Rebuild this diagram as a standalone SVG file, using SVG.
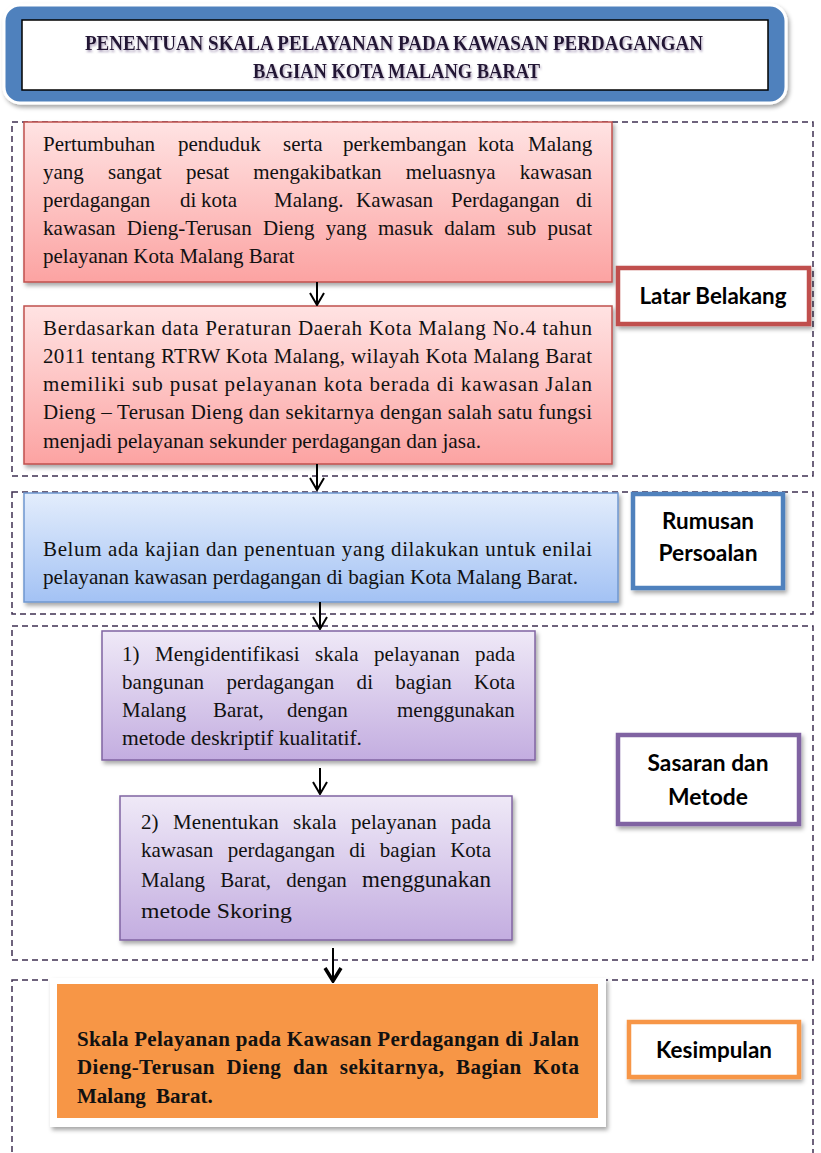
<svg xmlns="http://www.w3.org/2000/svg" width="821" height="1153" viewBox="0 0 821 1153">
<style>
.sec{fill:none;stroke:#3f3151;stroke-width:1.5;stroke-dasharray:6 4}
.body{font-family:"Liberation Serif","Times New Roman",serif;font-size:21px;fill:#111}
.bold{font-family:"Liberation Serif","Times New Roman",serif;font-size:21px;font-weight:bold;fill:#111}
.lab{font-family:Lato,"Liberation Sans",sans-serif;font-size:22px;font-weight:bold;fill:#000;text-anchor:middle}
.title{font-family:"Liberation Serif","Times New Roman",serif;font-size:22px;font-weight:bold;fill:#241634}
.end{text-anchor:end}
.conn{stroke:#000;stroke-width:2;fill:none}
</style>
<defs>
<linearGradient id="gRed" x1="0" y1="0" x2="0" y2="1"><stop offset="0" stop-color="#ffe3e3"/><stop offset="1" stop-color="#fca3a2"/></linearGradient>
<linearGradient id="gBlue" x1="0" y1="0" x2="0" y2="1"><stop offset="0" stop-color="#e3edfc"/><stop offset="1" stop-color="#a3c2f4"/></linearGradient>
<linearGradient id="gPur" x1="0" y1="0" x2="0" y2="1"><stop offset="0" stop-color="#efe9f7"/><stop offset="1" stop-color="#c3ade0"/></linearGradient>
<filter id="sh" x="-5%" y="-10%" width="115%" height="130%"><feDropShadow dx="2" dy="3" stdDeviation="2" flood-color="#000" flood-opacity="0.35"/></filter>
<filter id="tsh" x="-5%" y="-20%" width="110%" height="150%"><feDropShadow dx="1" dy="2" stdDeviation="1" flood-color="#8a7aa0" flood-opacity="0.7"/></filter>
<marker id="ah" markerUnits="userSpaceOnUse" viewBox="0 0 14 16" refX="13" refY="8" markerWidth="14" markerHeight="16" orient="auto"><path d="M1,1 L13,8 L1,15" fill="none" stroke="#000" stroke-width="2"/></marker>
<marker id="ahb" markerUnits="userSpaceOnUse" viewBox="0 0 16 20" refX="15" refY="10" markerWidth="16" markerHeight="20" orient="auto"><path d="M1,2 L14,10 L1,18" fill="none" stroke="#000" stroke-width="3.5"/></marker>
</defs>
<rect width="821" height="1153" fill="#fff"/>

<g id="sections">
<rect class="sec" x="12" y="122" width="801" height="354"/>
<rect class="sec" x="12" y="492" width="801" height="122"/>
<rect class="sec" x="12" y="626" width="801" height="334"/>
<rect class="sec" x="12" y="980" width="801" height="200"/>
</g>

<g id="title">
<rect x="4" y="5" width="782" height="98" rx="16" fill="#4f81bd" stroke="#fff" stroke-width="3" filter="url(#sh)"/>
<rect x="22" y="20" width="746" height="70" fill="#fff" stroke="#000" stroke-width="1.5"/>
<g filter="url(#tsh)">
<text class="title" x="85" y="50" textLength="618" lengthAdjust="spacingAndGlyphs">PENENTUAN  SKALA PELAYANAN PADA KAWASAN PERDAGANGAN</text>
<text class="title" x="253" y="78" textLength="287" lengthAdjust="spacingAndGlyphs">BAGIAN KOTA MALANG BARAT</text>
</g>
</g>

<g id="latar1">
<rect x="24" y="122" width="588" height="160" fill="url(#gRed)" stroke="#c0504d" stroke-width="1.5" filter="url(#sh)"/>
<text class="body" y="151"><tspan x="43">Pertumbuhan</tspan><tspan x="178">penduduk</tspan><tspan x="283">serta</tspan><tspan x="343">perkembangan</tspan><tspan x="478">kota</tspan><tspan x="528">Malang</tspan></text>
<text class="body" x="43" y="179" word-spacing="19" textLength="549" lengthAdjust="spacing">yang sangat pesat mengakibatkan meluasnya kawasan</text>
<text class="body" y="207"><tspan x="43">perdagangan</tspan><tspan x="180">di</tspan><tspan x="201">kota</tspan><tspan x="274">Malang.</tspan><tspan x="356">Kawasan</tspan><tspan x="451">Perdagangan</tspan><tspan x="576">di</tspan></text>
<text class="body" x="43" y="235" word-spacing="6" textLength="549" lengthAdjust="spacing">kawasan Dieng-Terusan Dieng yang masuk dalam sub pusat</text>
<text class="body" x="43" y="263">pelayanan Kota Malang Barat</text>
</g>

<g id="latar2">
<rect x="24" y="306" width="588" height="158" fill="url(#gRed)" stroke="#c0504d" stroke-width="1.5" filter="url(#sh)"/>
<text class="body" x="43" y="335" textLength="549" lengthAdjust="spacing">Berdasarkan data Peraturan Daerah Kota Malang No.4 tahun</text>
<text class="body" x="43" y="363" textLength="549" lengthAdjust="spacing">2011 tentang RTRW Kota Malang, wilayah Kota Malang Barat</text>
<text class="body" x="43" y="391" textLength="549" lengthAdjust="spacing">memiliki sub pusat pelayanan kota berada di kawasan Jalan</text>
<text class="body" x="43" y="419" textLength="549" lengthAdjust="spacing">Dieng – Terusan Dieng dan sekitarnya dengan salah satu fungsi</text>
<text class="body" x="43" y="448" textLength="438" lengthAdjust="spacingAndGlyphs">menjadi pelayanan sekunder perdagangan dan jasa.</text>
</g>

<g id="label-latar">
<rect x="618" y="268" width="191" height="56" fill="#fff" stroke="#c0504d" stroke-width="4.5" filter="url(#sh)"/>
<text class="lab" x="713" y="304" textLength="147" lengthAdjust="spacingAndGlyphs">Latar Belakang</text>
</g>

<g id="rumusan">
<rect x="24" y="493" width="594" height="109" fill="url(#gBlue)" stroke="#6f97cf" stroke-width="1.5" filter="url(#sh)"/>
<text class="body" x="43" y="556" textLength="549" lengthAdjust="spacing">Belum ada kajian dan penentuan yang dilakukan untuk enilai</text>
<text class="body" x="43" y="584" textLength="535" lengthAdjust="spacingAndGlyphs">pelayanan kawasan perdagangan di bagian Kota Malang Barat.</text>
</g>

<g id="label-rumusan">
<rect x="633" y="494" width="150" height="94" fill="#fff" stroke="#4f81bd" stroke-width="4.5" filter="url(#sh)"/>
<text class="lab" x="708" y="529" textLength="92" lengthAdjust="spacingAndGlyphs">Rumusan</text>
<text class="lab" x="708" y="561" textLength="99" lengthAdjust="spacingAndGlyphs">Persoalan</text>
</g>

<g id="sasaran1">
<rect x="102" y="631" width="433" height="129" fill="url(#gPur)" stroke="#8064a2" stroke-width="1.5" filter="url(#sh)"/>
<text class="body" x="122" y="661" word-spacing="10" textLength="393" lengthAdjust="spacing">1) Mengidentifikasi skala pelayanan pada</text>
<text class="body" x="122" y="689" word-spacing="17" textLength="393" lengthAdjust="spacing">bangunan perdagangan di bagian Kota</text>
<text class="body" y="717"><tspan x="122">Malang</tspan><tspan x="213">Barat,</tspan><tspan x="287">dengan</tspan><tspan x="397">menggunakan</tspan></text>
<text class="body" x="122" y="745" textLength="240" lengthAdjust="spacingAndGlyphs">metode deskriptif kualitatif.</text>
</g>

<g id="sasaran2">
<rect x="120" y="796" width="392" height="144" fill="url(#gPur)" stroke="#8064a2" stroke-width="1.5" filter="url(#sh)"/>
<text class="body" x="141" y="829" word-spacing="9" textLength="350" lengthAdjust="spacing">2) Menentukan skala pelayanan pada</text>
<text class="body" x="141" y="857" word-spacing="9" textLength="350" lengthAdjust="spacing">kawasan perdagangan di bagian Kota</text>
<text class="body" x="141" y="887" word-spacing="10" textLength="350" lengthAdjust="spacing">Malang Barat, dengan <tspan font-size="23">menggunakan</tspan></text>
<text class="body" x="141" y="918" font-size="24" textLength="151" lengthAdjust="spacingAndGlyphs">metode Skoring</text>
</g>

<g id="label-sasaran">
<rect x="618" y="735" width="181" height="89" fill="#fff" stroke="#8064a2" stroke-width="4.5" filter="url(#sh)"/>
<text class="lab" x="708" y="771" textLength="121" lengthAdjust="spacingAndGlyphs">Sasaran dan</text>
<text class="lab" x="708" y="805" textLength="80" lengthAdjust="spacingAndGlyphs">Metode</text>
</g>

<g id="kesimpulan">
<rect x="50" y="978" width="556" height="149" fill="#fff" filter="url(#sh)"/>
<rect x="57" y="984" width="541" height="134" fill="#f79646"/>
<text class="bold" x="77" y="1046" textLength="502" lengthAdjust="spacing">Skala Pelayanan pada Kawasan Perdagangan  di Jalan</text>
<text class="bold" x="77" y="1074" word-spacing="6" textLength="502" lengthAdjust="spacing">Dieng-Terusan Dieng dan sekitarnya, Bagian Kota</text>
<text class="bold" x="77" y="1103" word-spacing="5">Malang Barat.</text>
</g>

<g id="label-kesimpulan">
<rect x="629" y="1022" width="170" height="55" fill="#fff" stroke="#f79646" stroke-width="4.5" filter="url(#sh)"/>
<text class="lab" x="714" y="1058" textLength="116" lengthAdjust="spacingAndGlyphs">Kesimpulan</text>
</g>

<g id="connectors">
<line class="conn" x1="317" y1="282" x2="317" y2="305" marker-end="url(#ah)"/>
<line class="conn" x1="317" y1="464" x2="317" y2="490" marker-end="url(#ah)"/>
<line class="conn" x1="320" y1="602" x2="320" y2="629" marker-end="url(#ah)"/>
<line class="conn" x1="320" y1="768" x2="320" y2="794" marker-end="url(#ah)"/>
<line class="conn" x1="333" y1="948" x2="333" y2="982" stroke-width="4.5" marker-end="url(#ahb)"/>
</g>
</svg>
